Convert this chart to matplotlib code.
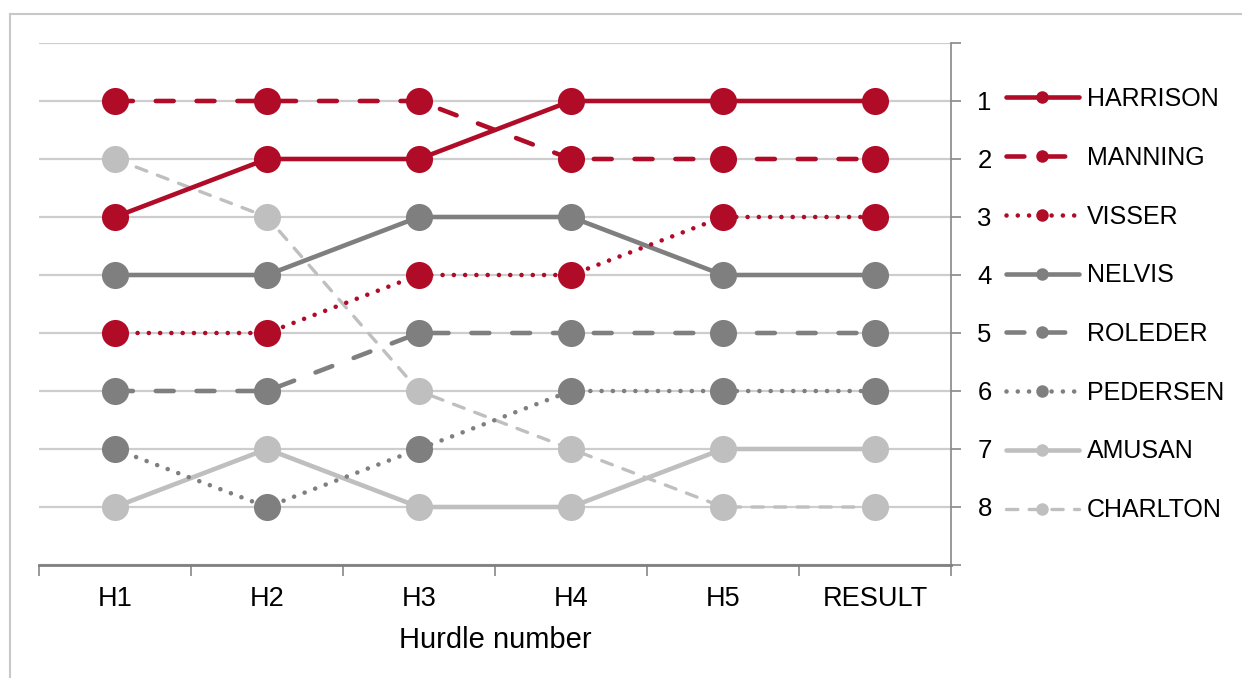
import matplotlib
matplotlib.use("Agg")
import matplotlib.pyplot as plt
from matplotlib.lines import Line2D

plt.rcParams["font.family"] = ["Liberation Sans", "DejaVu Sans"]

# Ranking por valla
hurdles = ["H1", "H2", "H3", "H4", "H5", "RESULT"]
harrison = [3, 2, 2, 1, 1, 1]
manning = [1, 1, 1, 2, 2, 2]
visser = [5, 5, 4, 4, 3, 3]
nelvis = [4, 4, 3, 3, 4, 4]
roleder = [6, 6, 5, 5, 5, 5]
pedersen = [7, 8, 7, 6, 6, 6]
amusan = [8, 7, 8, 8, 7, 7]
charlton = [2, 3, 6, 7, 8, 8]
ranks = [1, 2, 3, 4, 5, 6, 7, 8]

RED = "#B00C28"
DARK = "#7F7F7F"
LIGHT = "#BFBFBF"

DASH = (3.9, 5.0)
DOT = (0.01, 2.45)
THIN_DASH = (3.4, 3.4)

series = [
    ("HARRISON", harrison, RED, None, 3.3),
    ("MANNING", manning, RED, DASH, 3.3),
    ("VISSER", visser, RED, DOT, 3.3),
    ("NELVIS", nelvis, DARK, None, 3.3),
    ("ROLEDER", roleder, DARK, DASH, 3.3),
    ("PEDERSEN", pedersen, DARK, DOT, 3.3),
    ("AMUSAN", amusan, LIGHT, None, 3.3),
    ("CHARLTON", charlton, LIGHT, THIN_DASH, 2.4),
]

fig = plt.figure(figsize=(12.42, 6.78), dpi=100)
ax = fig.add_axes([39 / 1242, 1 - 565 / 678, 912 / 1242, 522 / 678])

x = list(range(len(hurdles)))
handles = []
n = len(series)
for i, (name, vals, color, dashes, lw) in enumerate(series):
    kw = dict(color=color, lw=lw, solid_capstyle="round",
              dash_capstyle="round")
    line, = ax.plot(x, vals, marker="o", markersize=19.5, markeredgewidth=0,
                    zorder=10 + n - i, **kw)
    if dashes:
        line.set_dashes(dashes)
    h = Line2D([], [], marker="o", markersize=9, markeredgewidth=0, **kw)
    if dashes:
        h.set_dashes(dashes)
    handles.append(h)

ax.set_xlim(-0.5, len(hurdles) - 0.5)
ax.set_ylim(9, 0)

# eje y a la derecha, etiquetas solo para 1-8
ax.yaxis.tick_right()
ax.set_yticks(range(0, 10))
ax.set_yticklabels([""] + [str(r) for r in ranks] + [""], fontsize=18.5)
ax.tick_params(axis="y", direction="out", length=7, width=1.2,
               color="#888888", pad=12)
ax.grid(axis="y", color="#CDCDCD", lw=1.6)
ax.set_axisbelow(True)

# marcas del eje x entre categorías, etiquetas centradas
ax.set_xticks([v - 0.5 for v in range(len(hurdles) + 1)])
ax.set_xticklabels([])
ax.set_xticks(x, minor=True)
ax.set_xticklabels(hurdles, minor=True, fontsize=19.5)
ax.tick_params(axis="x", which="major", direction="out", length=8,
               width=1.2, color="#888888")
ax.tick_params(axis="x", which="minor", length=0, pad=15)
ax.set_xlabel("Hurdle number", fontsize=21, labelpad=10)

for side in ["left", "top"]:
    ax.spines[side].set_visible(False)
ax.spines["right"].set_color("#888888")
ax.spines["right"].set_linewidth(1.2)
ax.spines["bottom"].set_color("#808080")
ax.spines["bottom"].set_linewidth(2)

leg = fig.legend(handles, [s[0] for s in series], loc="upper left",
                 bbox_to_anchor=(1006 / 1242, 1 - 87 / 678), frameon=False,
                 fontsize=18, handlelength=2.9, handletextpad=0.33,
                 labelspacing=1.39, borderpad=0, borderaxespad=0)

# marco exterior gris claro
fig.add_artist(Line2D([10 / 1242, 1], [1 - 14 / 678] * 2, color="#C8C8C8",
                      lw=1.5, transform=fig.transFigure))
fig.add_artist(Line2D([10 / 1242] * 2, [0, 1 - 14 / 678], color="#C8C8C8",
                      lw=1.5, transform=fig.transFigure))

fig.savefig("out.png", dpi=100)
